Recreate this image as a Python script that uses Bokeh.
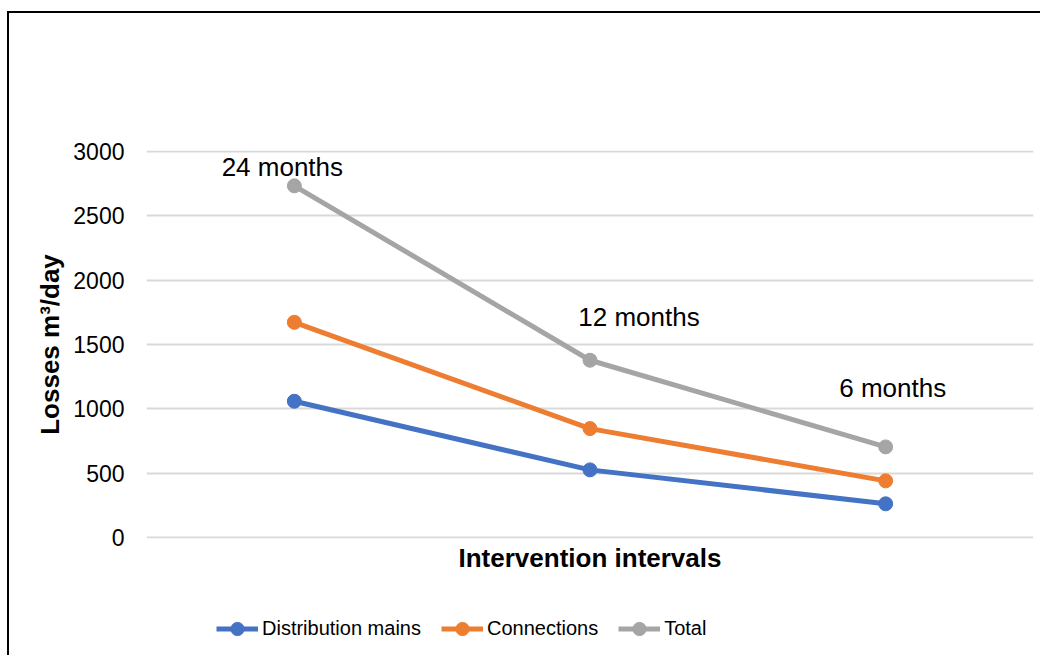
from bokeh.plotting import figure
from bokeh.layouts import column
from bokeh.models import (ColumnDataSource, FactorRange, Range1d, FixedTicker,
                          Legend, LegendItem)
from bokeh.core.properties import value
from bokeh.embed import file_html
from bokeh.resources import INLINE

intervals = ["24 months", "12 months", "6 months"]
distribution_mains = [1060, 528, 265]
connections = [1672, 848, 443]
total = [2730, 1378, 706]
y_ticks = [0, 500, 1000, 1500, 2000, 2500, 3000]
series_names = ["Distribution mains", "Connections", "Total"]
series_colors = ["#4472C4", "#ED7D31", "#A5A5A5"]

FONT = "Liberation Sans"
NAN = float("nan")

src = ColumnDataSource(dict(x=intervals, dm=distribution_mains, cn=connections,
                            tot=total))

p = figure(width=1033, height=600, x_range=FactorRange(*intervals),
           y_range=Range1d(-4, 3004), output_backend="svg", toolbar_location=None,
           min_border_left=137, min_border_right=9, min_border_top=137,
           min_border_bottom=75)
p.styles = {"border-left": "2px solid black", "border-top": "2px solid black",
            "margin-left": "7px", "margin-top": "11px"}
p.outline_line_color = None
p.background_fill_color = "white"
p.border_fill_color = "white"

p.xgrid.grid_line_color = None
p.ygrid.grid_line_color = "#D9D9D9"
p.ygrid.grid_line_width = 2

p.yaxis.ticker = FixedTicker(ticks=y_ticks)
p.yaxis.axis_line_color = None
p.yaxis.major_tick_line_color = None
p.yaxis.minor_tick_line_color = None
p.yaxis.major_tick_out = 0
p.yaxis.major_tick_in = 0
p.yaxis.minor_tick_out = 0
p.yaxis.major_label_standoff = 22
p.yaxis.major_label_text_font = FONT
p.yaxis.major_label_text_font_size = "23px"
p.yaxis.major_label_text_color = "#000000"
p.yaxis.axis_label = "Losses m³/day"
p.yaxis.axis_label_text_font = FONT
p.yaxis.axis_label_text_font_size = "26px"
p.yaxis.axis_label_text_font_style = "bold"
p.yaxis.axis_label_text_color = "#000000"
p.yaxis.axis_label_standoff = 5

p.xaxis.axis_line_color = None
p.xaxis.major_tick_line_color = None
p.xaxis.minor_tick_line_color = None
p.xaxis.major_tick_out = 0
p.xaxis.major_tick_in = 0
p.xaxis.major_label_overrides = {c: "" for c in intervals}
p.xaxis.major_label_text_font_size = "1px"
p.xaxis.major_label_text_alpha = 0
p.xaxis.major_label_standoff = 0
p.xaxis.axis_label = "Intervention intervals"
p.xaxis.axis_label_text_font = FONT
p.xaxis.axis_label_text_font_size = "26px"
p.xaxis.axis_label_text_font_style = "bold"
p.xaxis.axis_label_text_color = "#000000"
p.xaxis.axis_label_standoff = 4

cols = ["dm", "cn", "tot"]
for col, color in zip(cols, series_colors):
    p.line("x", col, source=src, line_color=color, line_width=5)
    p.scatter("x", col, source=src, size=14, fill_color=color, line_color=color)

# data labels above the Total points
label_dx = [-12, 49, 7]
label_dy = [-19, -43, -59]
for i in range(3):
    p.text(x=[intervals[i]], y=[total[i]], text=[intervals[i]],
           x_offset=label_dx[i], y_offset=label_dy[i],
           text_align="center", text_baseline="alphabetic",
           text_font=value(FONT), text_font_size="26px", text_color="#000000")

# legend strip below the chart
pl = figure(width=1033, height=44, x_range=Range1d(0, 1), y_range=Range1d(0, 1),
            x_axis_type=None, y_axis_type=None, output_backend="svg",
            toolbar_location=None, min_border=0)
pl.styles = {"border-left": "2px solid black", "margin-left": "7px"}
pl.outline_line_color = None
pl.grid.visible = False
pl.background_fill_color = "white"
pl.border_fill_color = "white"

items = []
for name, color in zip(series_names, series_colors):
    l = pl.line(x=[NAN], y=[NAN], line_color=color, line_width=5)
    s = pl.scatter(x=[NAN], y=[NAN], size=14, fill_color=color, line_color=color)
    items.append(LegendItem(label=name, renderers=[l, s]))

legend = Legend(items=items, orientation="horizontal", location=(70, 10))
legend.glyph_width = 42
legend.glyph_height = 33
legend.label_standoff = 4
legend.spacing = 20
legend.padding = 0
legend.margin = 0
legend.border_line_color = None
legend.background_fill_alpha = 0
legend.label_text_font = FONT
legend.label_text_font_size = "20px"
legend.label_text_color = "#000000"
pl.add_layout(legend, "center")

root = column(p, pl, spacing=0)

open("out.html", "w").write(file_html(root, INLINE))
